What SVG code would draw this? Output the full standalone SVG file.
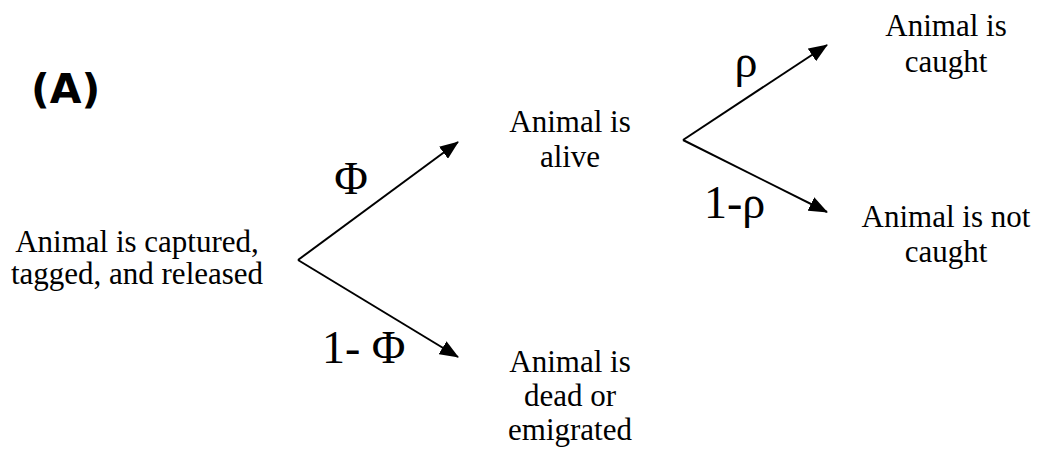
<svg xmlns="http://www.w3.org/2000/svg" width="1040" height="455" viewBox="0 0 1040 455">
<style>
.t{font-family:"Liberation Serif","Times New Roman",serif;font-size:31px;fill:#000;text-anchor:middle}
.lab{font-family:"Liberation Serif","Times New Roman",serif;font-size:46px;fill:#000}
.c{stroke:#000;stroke-width:2;fill:none;marker-end:url(#ah)}
</style>
<defs>
<marker id="ah" markerUnits="userSpaceOnUse" markerWidth="19" markerHeight="15" refX="18" refY="7.5" orient="auto">
<path d="M0,0 L19,7.5 L0,15 z" fill="#000"/>
</marker>
</defs>
<rect width="1040" height="455" fill="#fff"/>
<text x="31" y="103" style="font-family:'DejaVu Sans',Verdana,sans-serif;font-weight:bold;font-size:41px">(A)</text>
<g id="connectors">
<line class="c" x1="298" y1="260" x2="458" y2="142"/>
<line class="c" x1="298" y1="260" x2="458" y2="357"/>
<line class="c" x1="683" y1="140" x2="827" y2="45"/>
<line class="c" x1="683" y1="140" x2="827" y2="212"/>
<text class="lab" x="351" y="194" text-anchor="middle">Φ</text>
<text class="lab" x="322" y="363">1- Φ</text>
<text class="lab" x="746" y="77" text-anchor="middle">ρ</text>
<text class="lab" x="704" y="218">1-ρ</text>
</g>
<g id="start"><text class="t" x="137" y="252">Animal is captured,</text><text class="t" x="137" y="284">tagged, and released</text></g>
<g id="alive"><text class="t" x="570" y="132">Animal is</text><text class="t" x="570" y="167">alive</text></g>
<g id="dead"><text class="t" x="570" y="372">Animal is</text><text class="t" x="570" y="406">dead or</text><text class="t" x="570" y="440">emigrated</text></g>
<g id="caught"><text class="t" x="946" y="36">Animal is</text><text class="t" x="946" y="72">caught</text></g>
<g id="notcaught"><text class="t" x="946" y="227">Animal is not</text><text class="t" x="946" y="262">caught</text></g>
</svg>
